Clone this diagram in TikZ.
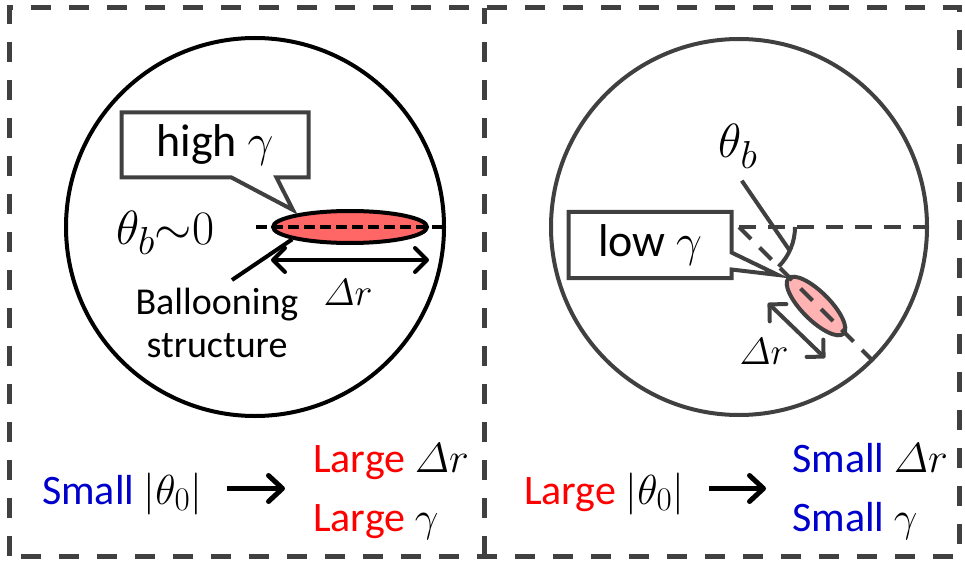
\RequirePackage{fix-cm}
\documentclass[tikz,border=0pt]{standalone}
\usepackage{amsmath}
\usepackage[no-math]{fontspec}
\setmainfont{Carlito}
\usepackage{xcolor}
\usetikzlibrary{shapes,shapes.callouts,arrows.meta,positioning}

\DeclareMathSizes{38}{38}{30}{22}
\DeclareMathSizes{42}{42}{33}{24}
\DeclareMathSizes{46}{46}{36}{26}
\DeclareMathSizes{48}{48}{39}{28}

\definecolor{framegray}{HTML}{404040}
\definecolor{ballred}{HTML}{FF6666}
\definecolor{ballpink}{HTML}{FFB3B3}
\definecolor{bigred}{HTML}{FF0000}
\definecolor{bigblue}{HTML}{0000CC}

\tikzset{
  bigtxt/.style={inner sep=0pt, font=\fontsize{42}{50}\selectfont},
  symtxt/.style={inner sep=0pt, font=\fontsize{48}{54}\selectfont},
  midtxt/.style={inner sep=0pt, font=\fontsize{38}{43}\selectfont, align=center},
  callbox/.style={rectangle callout, draw=framegray, line width=4pt, fill=white, inner sep=0pt, font=\fontsize{46}{54}\selectfont},
  dimarr/.style={line width=4pt, {Straight Barb[round,length=12pt,width=24pt]}-{Straight Barb[round,length=12pt,width=24pt]}},
  bigarr/.style={line width=5pt, -{Straight Barb[round,length=14pt,width=26pt]}},
  dashax/.style={line width=4pt, dash pattern=on 17pt off 12pt}
}

\begin{document}
\begin{tikzpicture}[x=1pt, y=1pt]
        \useasboundingbox (0,0) rectangle (965,563);

        % Frames
        \draw [framegray, line width=5pt, dash pattern=on 20pt off 18pt] (9,7) rectangle (959,555);
        \draw [framegray, line width=5pt, dash pattern=on 20pt off 18pt] (484,7) -- (484,555);

        % Left panel
        \node (circL) [circle, draw, line width=4pt, minimum size=378pt, inner sep=0pt] at (255,336) {};
        \node (ballL) [ellipse, draw, line width=4pt, fill=ballred, minimum width=154pt, minimum height=32pt, inner sep=0pt] at (350,336) {};
        \coordinate (axL) at (256,336);
        \draw [line width=4.5pt, dash pattern=on 11pt off 5pt] (axL) -- (circL.east);
        \node (thL) [symtxt, anchor=base west] at (116,319) {$\theta_b{\sim}0$};
        \coordinate (tipL) at (293,353);
        \node (highg) [callbox, minimum width=187pt, minimum height=65pt, callout absolute pointer={(tipL)}, callout pointer width=45pt] at (215,418) {high $\gamma$};
        \node (ballTxt) [midtxt] at (217,240) {Ballooning\\structure};
        \coordinate (lnL) at (232,283);
        \draw [line width=4pt] (lnL) -- (ballL.192);
        \draw [dimarr] ([yshift=-33pt]ballL.west) -- ([yshift=-33pt]ballL.east);
        \node (drL) [midtxt, anchor=base] at (348,258) {$\varDelta r$};

        % Left result
        \node (smL) [bigtxt, anchor=base] at (122,59) {\textcolor{bigblue}{Small} $|\theta_0|$};
        \node (ldr) [bigtxt, anchor=base west] at (313,91) {\textcolor{bigred}{Large} $\varDelta r$};
        \node (lgm) [bigtxt, anchor=base west] at (313,32) {\textcolor{bigred}{Large} $\gamma$};
        \draw [bigarr] ([xshift=25pt,yshift=5pt]smL.east) -- ([xshift=-28pt,yshift=5pt]smL.east -| ldr.west);

        % Right panel
        \node (circR) [circle, draw=framegray, line width=4pt, minimum size=376pt, inner sep=0pt] at (739,336) {};
        \draw [framegray, dashax] (circR.center) -- (circR.east);
        \node (ballR) [ellipse, draw=framegray, line width=4pt, fill=ballpink, minimum width=78pt, minimum height=28pt, inner sep=0pt, rotate=-45] at (816,257) {};
        \draw [framegray, dashax] (circR.center) -- (circR.-45);
        \draw [framegray, line width=4pt] ([shift={(0:56)}]circR.center) arc[start angle=0, end angle=-45, radius=56];
        \node (thR) [symtxt, anchor=base] at (738,405) {$\theta_b$};
        \coordinate (angR) at ([shift={(-25:56)}]circR.center);
        \draw [framegray, line width=4pt] (angR) -- ++(-48,70);
        \coordinate (tipR) at (778,288);
        \node (lowg) [callbox, minimum width=163pt, minimum height=66pt, callout absolute pointer={(tipR)}, callout pointer width=17pt] at (650,318) {low $\gamma$};
        \coordinate (drR1) at (768,260);
        \coordinate (drR2) at (825,205);
        \draw [framegray, dimarr] (drR1) -- (drR2);
        \node (drR) [midtxt, anchor=base] at (764,199) {$\varDelta r$};

        % Right result
        \node (lgR) [bigtxt, anchor=base] at (604,59) {\textcolor{bigred}{Large} $|\theta_0|$};
        \node (sdr) [bigtxt, anchor=base west] at (792,91) {\textcolor{bigblue}{Small} $\varDelta r$};
        \node (sgm) [bigtxt, anchor=base west] at (792,32) {\textcolor{bigblue}{Small} $\gamma$};
        \draw [bigarr] ([xshift=25pt,yshift=5pt]lgR.east) -- ([xshift=-26pt,yshift=5pt]lgR.east -| sdr.west);
\end{tikzpicture}
\end{document}
